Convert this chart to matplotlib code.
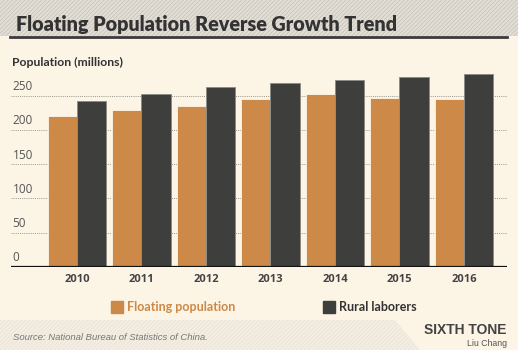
import numpy as np
import matplotlib.pyplot as plt
from matplotlib.patches import Rectangle, Polygon

# data (millions)
years = ['2010', '2011', '2012', '2013', '2014', '2015', '2016']
floating = [221, 230, 236, 245, 253, 247, 245]
rural = [242.2, 252.8, 262.6, 268.9, 274.0, 277.5, 281.7]
yticks = [0, 50, 100, 150, 200, 250]

bg = '#fcf4e5'
orange = '#cd8947'
dark = '#3e3f3c'

plt.rcParams['font.family'] = ['Open Sans', 'DejaVu Sans']
plt.rcParams['hatch.linewidth'] = 0.5

fig = plt.figure(figsize=(5.18, 3.5), dpi=100)
fig.patch.set_facecolor(bg)

# hatched bands top and bottom
fig.patches.append(Rectangle((0, 1 - 36 / 350), 1, 36 / 350, transform=fig.transFigure,
                             facecolor='#e2ded6', edgecolor='#c4bfb6', hatch='////////', lw=0, zorder=0))
fig.patches.append(Polygon([(0, 0), (420 / 518, 0), (395 / 518, 30 / 350), (0, 30 / 350)],
                           closed=True, transform=fig.transFigure,
                           facecolor='#f4eee2', edgecolor='#e8e1d5', hatch='////////', lw=0, zorder=0))

ax = fig.add_axes([11 / 518, (350 - 266.7) / 350, 496 / 518, 290 * 0.683 / 350])
ax.set_facecolor('none')
x = np.arange(len(years))
w = 0.45
ax.bar(x - w / 2, floating, w, color=orange, edgecolor=bg, linewidth=0.6, zorder=3)
ax.bar(x + w / 2, rural, w, color=dark, edgecolor='#8a8a86', linewidth=0.6, zorder=3)
ax.set_xlim(-1.023, 6.667)
ax.set_ylim(0, 290)

for t in yticks:
    if t > 0:
        ax.axhline(t, color='#9a958c', lw=0.7, ls=(0, (1, 1.2)), zorder=1)
    ax.text(-1.0, t + 4, str(t), fontsize=8.5, color='#555555', va='bottom', ha='left', zorder=2)
ax.axhline(0, color='#111111', lw=1.6, zorder=4)

ax.set_xticks(x)
ax.set_xticklabels(years, fontsize=8, fontweight='bold', color='#444444')
ax.tick_params(axis='x', length=0, pad=5)
ax.set_yticks([])
for s in ax.spines.values():
    s.set_visible(False)

# title and underline
fig.text(16 / 518, 1 - 31 / 350, 'Floating Population Reverse Growth Trend', fontsize=14.2,
         fontweight='heavy', color='#333333', family='Lato', va='baseline', ha='left')
fig.add_artist(plt.Line2D([10 / 518, 507 / 518], [1 - 36.5 / 350] * 2, color='#3a3a3a', lw=2))

fig.text(12 / 518, 1 - 62 / 350, 'Population (millions)', fontsize=8.8, fontweight='bold',
         color='#333333', family='Lato', va='center', ha='left')

# legend
fig.patches.append(Rectangle((111 / 518, 1 - 313 / 350), 12 / 518, 12 / 350,
                             transform=fig.transFigure, color=orange))
fig.text(127 / 518, 1 - 307 / 350, 'Floating population', fontsize=9, fontweight='bold',
         color=orange, family='Lato', va='center', ha='left')
fig.patches.append(Rectangle((323 / 518, 1 - 313 / 350), 12 / 518, 12 / 350,
                             transform=fig.transFigure, color=dark))
fig.text(339 / 518, 1 - 307 / 350, 'Rural laborers', fontsize=9, fontweight='bold',
         color='#333333', family='Lato', va='center', ha='left')

# footer
fig.text(13 / 518, 1 - 338 / 350, 'Source: National Bureau of Statistics of China.', fontsize=6.8,
         style='italic', color='#777777', family='Liberation Sans', va='center', ha='left')
fig.text(507 / 518, 1 - 330 / 350, 'SIXTH TONE', fontsize=10, fontweight='bold',
         color='#444444', family='Liberation Sans', va='center', ha='right')
fig.text(507 / 518, 1 - 344 / 350, 'Liu Chang', fontsize=6.3, color='#555555',
         family='Liberation Sans', va='center', ha='right')

fig.savefig('out.png', dpi=100, facecolor=bg)
